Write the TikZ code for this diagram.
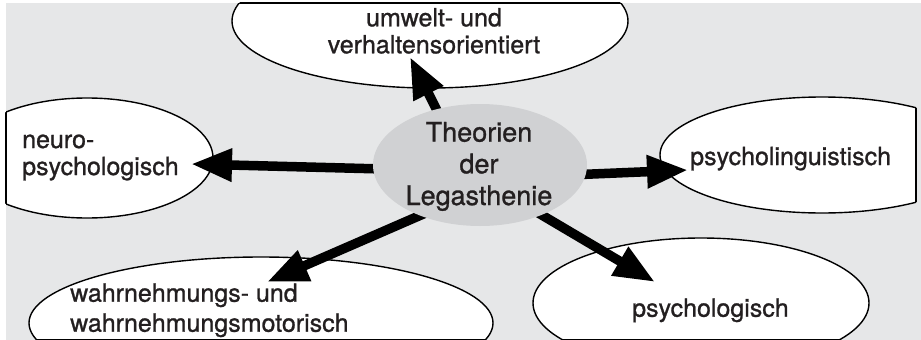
\documentclass[tikz,border=0pt]{standalone}
\usepackage{fontspec}
\setmainfont[FakeBold=1]{TeX Gyre Heros}
\usetikzlibrary{arrows.meta,shapes.geometric}

\definecolor{framegray}{RGB}{230,231,232}
\definecolor{hubgray}{RGB}{208,209,211}
\definecolor{ink}{RGB}{35,31,32}

\pgfdeclarelayer{back}
\pgfdeclarelayer{mid}
\pgfsetlayers{back,mid,main}

\tikzset{
  ovaltext/.style={text=ink, inner sep=0pt, font=\fontsize{25}{27}\selectfont},
  hubtext/.style={text=ink, inner sep=0pt, align=center, font=\fontsize{27}{31.7}\selectfont},
  hubshape/.style={ellipse, fill=hubgray, minimum width=214pt, minimum height=122pt, inner sep=0pt},
  oval/.style={fill=white, draw=black, line width=1.4pt},
  spoke/.style={line width=9.5pt, black, -{Triangle[length=41pt,width=31pt]}, shorten <=-8pt},
}

% white oval with black outline, cut off by the grey frame
\newcommand\clippedoval[3]{%
  \begin{scope}
    \clip (6,3) rectangle (916,339.3);
    \path[oval] #1 ellipse [x radius=#2pt, y radius=#3pt];
  \end{scope}
  \begin{scope}
    \clip #1 ellipse [x radius=#2pt, y radius=#3pt];
    \draw[line width=1.4pt] (6,3) rectangle (916,339.3);
  \end{scope}}

\begin{document}
\begin{tikzpicture}[x=1pt, y=-1pt]
  \useasboundingbox (0,0) rectangle (921,340);

  \begin{pgfonlayer}{back}
    \fill[white] (0,0) rectangle (921,340);
    \fill[framegray] (6,3) rectangle (921,340);
    \clippedoval{(430,21)}{198}{67}
    \clippedoval{(87,158)}{126}{60}
    \clippedoval{(822,155)}{162}{58}
    \clippedoval{(261,323)}{232}{66}
    \clippedoval{(701,303)}{168}{65}
  \end{pgfonlayer}

  % central topic
  \node[hubshape] (hub) at (480,165) {};
  \node[hubtext, anchor=base] (hubtitle) at (479,205) {Theorien\\der\\Legasthenie};

  % the five branches (multi-line nodes sit on their last baseline)
  \node[ovaltext, align=center, anchor=base] (umwelt) at (434,53.3) {umwelt- und\\verhaltensorientiert};
  \node[ovaltext, align=left, anchor=base west] (neuro) at (22,175) {neuro-\\psychologisch};
  \node[ovaltext, anchor=base west] (linguist) at (690,165) {psycholinguistisch};
  \node[ovaltext, align=left, anchor=base west, font=\fontsize{25}{30}\selectfont] (wahr) at (70,331.7) {wahrnehmungs- und\\wahrnehmungsmotorisch};
  \node[ovaltext, anchor=base west] (psych) at (632,316.7) {psychologisch};

  \coordinate (tipTop) at (410,57);
  \coordinate (tipLeft) at (191,164);
  \coordinate (tipRight) at (688,170);
  \coordinate (tipBL) at (267,282);
  \coordinate (tipBR) at (655,282);

  \begin{pgfonlayer}{mid}
    \draw[spoke] (hub.128) -- (tipTop);
    \draw[spoke] (hub.182) -- (tipLeft);
    \draw[spoke] (hub.-5) -- (tipRight);
    \draw[spoke] (hub.220) -- (tipBL);
    \draw[spoke] (hub.-39) -- (tipBR);
  \end{pgfonlayer}
\end{tikzpicture}
\end{document}
